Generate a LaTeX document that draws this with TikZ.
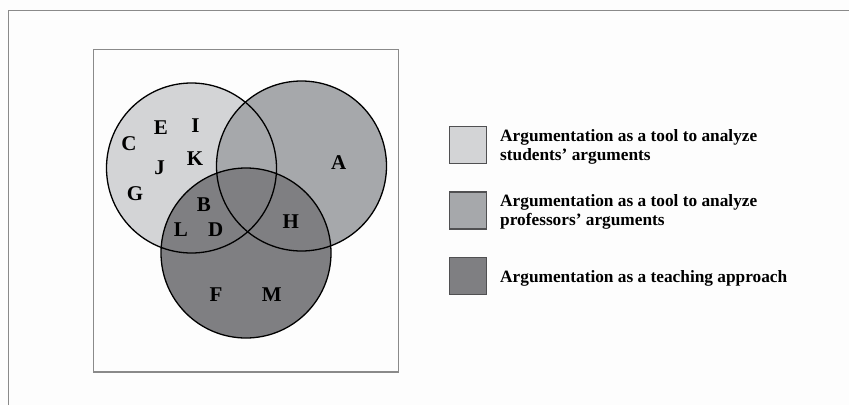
\documentclass[tikz,border=0pt]{standalone}
\usepackage{fontspec}
\setmainfont{Liberation Serif}
\definecolor{bgc}{HTML}{FDFDFD}
\definecolor{framec}{HTML}{8A8A8A}
\definecolor{lightc}{HTML}{D3D4D6}
\definecolor{midc}{HTML}{A6A8AB}
\definecolor{darkc}{HTML}{7F7F82}
\definecolor{legedge}{HTML}{505052}
\tikzset{
  frameline/.style={draw=framec, line width=1.3pt},
  vcircle/.style={draw=black, line width=1.3pt},
  letter/.style={font=\fontsize{21}{21}\selectfont\bfseries, inner sep=0pt},
  legbox/.style={draw=legedge, line width=1.2pt, minimum width=37pt, minimum height=37pt, inner sep=0pt},
  legtext/.style={font=\fontsize{17.3}{18.5}\selectfont\bfseries, anchor=west, align=left, inner sep=0pt}
}
\begin{document}
\begin{tikzpicture}[x=1pt,y=-1pt]
\useasboundingbox (0,0) rectangle (849,405);
\fill[bgc] (0,0) rectangle (849,405);
% outer frame
\draw[frameline] (8.5,405) -- (8.5,10.5) -- (849,10.5);
% inner box
\draw[frameline] (93.5,49.5) rectangle (398.5,372);
% circles
\coordinate (c1) at (191.5,168);
\coordinate (c2) at (301.5,166);
\coordinate (c3) at (246,253);
\fill[lightc] (c1) circle (85);
\fill[midc] (c2) circle (85);
\fill[darkc] (c3) circle (85);
\draw[vcircle] (c1) circle (85);
\draw[vcircle] (c2) circle (85);
\draw[vcircle] (c3) circle (85);
% letters
\node[letter] (C) at (129,143.3) {C};
\node[letter] (E) at (161,127.7) {E};
\node[letter] (I) at (195.5,126) {I};
\node[letter] (J) at (159.5,167.7) {J};
\node[letter] (K) at (195,159) {K};
\node[letter] (G) at (135,193.3) {G};
\node[letter] (B) at (204,205) {B};
\node[letter] (L) at (181,229.3) {L};
\node[letter] (D) at (215.7,230) {D};
\node[letter] (H) at (290.7,221.7) {H};
\node[letter] (A) at (338.7,162.3) {A};
\node[letter] (F) at (216,295) {F};
\node[letter] (M) at (271.7,295) {M};
% legend
\node[legbox, fill=lightc] (s1) at (468.3,144.7) {};
\node[legbox, fill=midc] (s2) at (468.3,210.5) {};
\node[legbox, fill=darkc] (s3) at (468.3,276.3) {};
\node[legtext] (t1) at (500,147) {Argumentation as a tool to analyze\\students’ arguments};
\node[legtext] (t2) at (500,212) {Argumentation as a tool to analyze\\professors’ arguments};
\node[legtext] (t3) at (500,278) {Argumentation as a teaching approach};
\end{tikzpicture}
\end{document}
